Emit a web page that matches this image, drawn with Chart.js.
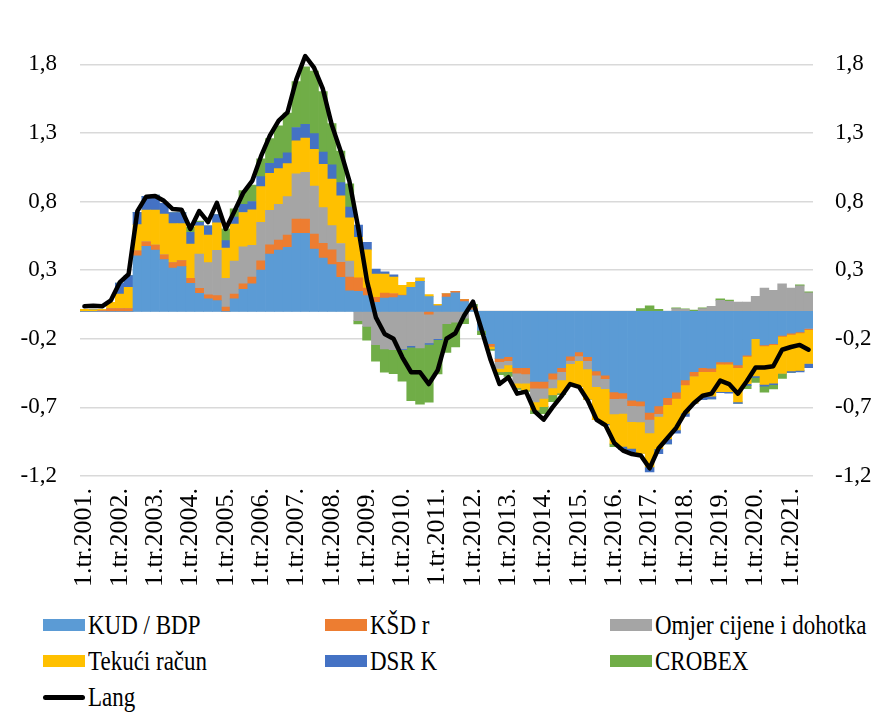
<!DOCTYPE html>
<html>
<head>
<meta charset="utf-8">
<script src="https://cdn.jsdelivr.net/npm/chart.js@4.4.1/dist/chart.umd.min.js"></script>
<style>
  html, body { margin: 0; padding: 0; background: #fff; }
  #wrap { position: relative; width: 874px; height: 720px; overflow: hidden; }
  #c { position: absolute; left: 0; top: 0; }
  .leg { position: absolute; font-family: "Liberation Serif", "Times New Roman", serif; font-size: 23px; color: #000; white-space: nowrap; line-height: 1; transform: scaleY(1.18); transform-origin: left center; }
  .sw { position: absolute; width: 42px; height: 12px; }
  .ln { position: absolute; width: 42px; height: 5px; background: #000; border-radius: 3px; }
</style>
</head>
<body>
<div id="wrap">
  <canvas id="c" width="874" height="600"></canvas>
  <div id="legend"></div>
</div>
<script>
// ---- data ----
const years = [];
for (let y = 2001; y <= 2021; y++) years.push(y);
const categories = [];
years.forEach(y => { for (let q = 1; q <= 4; q++) categories.push(q + '.tr.' + y + '.'); });
categories.length = 83; // 1.tr.2001. .. 3.tr.2021.

const kudBdp = [0,0,0,0,0,0,0.405,0.473,0.446,0.376,0.315,0.325,0.204,0.131,0.09,0.078,0,0.09,0.16,0.2,
  0.3,0.417,0.446,0.466,0.568,0.568,0.454,0.388,0.34,0.247,0.15,0.146,0.114,0.065,0.097,0.10,0.114,0.175,0.218,0.107,
  0.04,0.104,0.135,0.07,0.01,-0.14,-0.235,-0.343,-0.33,-0.41,-0.41,-0.51,-0.51,-0.45,-0.41,-0.327,-0.296,-0.33,-0.435,-0.465,
  -0.587,-0.594,-0.648,-0.655,-0.737,-0.69,-0.63,-0.59,-0.5,-0.44,-0.41,-0.415,-0.368,-0.368,-0.39,-0.32,-0.2,-0.245,-0.235,-0.175,
  -0.16,-0.15,-0.125];
const ksdR = [0,0,0.005,0.02,0.02,0.02,0.036,0.034,0.036,0.036,0.04,0.044,0.036,0.036,0.03,0.036,0.03,0.036,0.04,0.05,
  0.068,0.068,0.073,0.09,0.104,0.104,0.109,0.107,0.107,0.109,0.1,0.097,0.056,0.036,0.036,0.03,0.005,0,0,-0.02,
  0,0.024,0.01,0.015,0.01,0,-0.02,-0.024,-0.03,-0.04,-0.046,-0.05,-0.05,-0.044,-0.03,-0.03,-0.03,-0.03,-0.03,-0.025,
  -0.05,-0.04,-0.04,-0.034,-0.05,-0.056,-0.05,-0.044,-0.036,-0.03,-0.03,-0.024,-0.017,-0.017,-0.02,-0.008,0,-0.008,-0.008,-0.008,
  -0.008,-0.008,-0.008];
const omjer = [0,0,0,0,0,0,0,0,0,0,0,0,0,0.25,0.235,0.33,0.21,0.24,0.27,0.23,
  0.28,0.25,0.26,0.28,0.33,0.34,0.35,0.26,0.177,0.138,0.116,-0.068,-0.11,-0.243,-0.274,-0.28,-0.274,-0.25,-0.267,-0.21,
  -0.2,-0.09,-0.08,-0.05,0,0,0,-0.05,-0.03,-0.073,-0.068,-0.1,-0.075,-0.065,-0.06,-0.025,-0.034,-0.06,-0.085,-0.073,
  -0.11,-0.11,-0.117,-0.117,-0.1,-0.02,0,0.02,0.015,0,0.02,0.036,0.08,0.073,0.068,0.068,0.109,0.17,0.153,0.2,
  0.17,0.185,0.134];
const tekuci = [0.015,0.01,0.01,0.045,0.105,0.155,0.19,0.23,0.255,0.296,0.284,0.27,0.25,0.206,0.2,0.2,0.22,0.27,0.25,0.26,
  0.26,0.27,0.26,0.24,0.24,0.25,0.267,0.315,0.34,0.347,0.315,0.296,0.277,0.17,0.138,0.12,0.07,0.036,0.024,0.015,
  0.01,0,0,0,0.01,0,-0.02,-0.024,-0.05,-0.036,-0.05,-0.06,-0.06,-0.05,-0.097,-0.16,-0.19,-0.22,-0.24,-0.255,
  -0.22,-0.24,-0.194,-0.23,-0.247,-0.235,-0.25,-0.23,-0.206,-0.2,-0.18,-0.18,-0.2,-0.2,-0.25,-0.2,-0.27,-0.28,-0.28,-0.27,
  -0.267,-0.272,-0.247];
const dsrK = [0,0,0,0,0.08,0.085,0.09,0.1,0.11,0.078,0.08,0.08,0.085,0.025,0.068,0.06,0.055,0.05,0.06,0.06,
  0.073,0.073,0.073,0.078,0.097,0.1,0.114,0.09,0.104,0.097,0.078,0.09,0.056,0.036,0.017,0.015,-0.005,-0.012,0,-0.012,
  -0.007,0,0,0,0,0,0,0,0,0,0,0,0,0,0,0,0,0,0,-0.01,
  0,-0.025,-0.025,0,-0.036,-0.036,-0.036,-0.024,-0.024,0,-0.024,-0.02,-0.008,-0.012,-0.012,-0.012,-0.012,-0.012,-0.012,0,
  -0.01,-0.012,-0.03];
const crobex = [0,0,0,0,0,0,0,0,0,0,0,0,0.036,0.01,0,0,0.085,0.06,0.1,0.12,
  0.13,0.18,0.24,0.29,0.335,0.42,0.456,0.44,0.3,0.23,0.17,-0.024,-0.10,-0.12,-0.17,-0.175,-0.23,-0.39,-0.41,-0.42,
  -0.25,-0.21,-0.18,-0.04,0.02,-0.03,-0.01,-0.02,-0.035,-0.01,-0.01,-0.025,-0.05,-0.05,-0.01,0,0,0,0,0,
  -0.02,0,0,0.02,0.04,0.015,0,0.005,0.003,0.008,0.005,0,0.01,0.008,0,-0.024,-0.036,-0.044,-0.03,-0.036,
  0,0.008,0.008];
const lang = [0.036,0.04,0.036,0.08,0.21,0.27,0.73,0.835,0.84,0.805,0.745,0.74,0.6,0.73,0.65,0.79,0.6,0.73,0.865,0.95,
  1.13,1.28,1.39,1.45,1.69,1.86,1.775,1.62,1.36,1.17,0.95,0.61,0.22,-0.044,-0.165,-0.2,-0.335,-0.444,-0.444,-0.53,
  -0.43,-0.2,-0.16,-0.03,0.07,-0.14,-0.355,-0.53,-0.48,-0.6,-0.585,-0.73,-0.79,-0.7,-0.62,-0.53,-0.55,-0.65,-0.79,-0.83,
  -0.96,-1.015,-1.04,-1.05,-1.144,-1.0,-0.925,-0.85,-0.74,-0.67,-0.615,-0.6,-0.505,-0.53,-0.6,-0.51,-0.41,-0.41,-0.40,-0.28,
  -0.26,-0.245,-0.28];
const yTicks = [-1.2, -0.7, -0.2, 0.3, 0.8, 1.3, 1.8];

const seriesNames = ['KUD / BDP', 'KŠD r', 'Omjer cijene i dohotka', 'Tekući račun', 'DSR K', 'CROBEX', 'Lang'];
const seriesColors = ['#5B9BD5', '#ED7D31', '#A5A5A5', '#FFC000', '#4472C4', '#70AD47', '#000000'];
const barSeries = [kudBdp, ksdR, omjer, tekuci, dsrK, crobex];

// ---- chart ----
const SERIF = '"Liberation Serif", "Times New Roman", serif';
const YFONT = { family: SERIF, size: 23 };
const XFONT = { family: SERIF, size: 26 };
const fmt = v => (Math.round(v * 10) / 10).toFixed(1).replace('.', ',');

const datasets = barSeries.map((arr, i) => ({
  type: 'bar', label: seriesNames[i], data: arr, backgroundColor: seriesColors[i],
  borderWidth: 0, barPercentage: 1, categoryPercentage: 1, stack: 'bars', order: 1
}));
datasets.push({
  type: 'line', label: 'Lang', data: lang, borderColor: '#000', backgroundColor: '#000',
  borderWidth: 4.5, pointRadius: 0, tension: 0, stack: 'lang', order: 0,
  borderJoinStyle: 'round', borderCapStyle: 'round'
});

const zeroLine = {
  id: 'zeroLine',
  beforeDatasetsDraw(chart) {
    const { ctx, chartArea, scales } = chart;
    const y = scales.y.getPixelForValue(0);
    ctx.save();
    ctx.strokeStyle = '#d9d9d9';
    ctx.lineWidth = 1.5;
    ctx.beginPath();
    ctx.moveTo(chartArea.left, y);
    ctx.lineTo(chartArea.right, y);
    ctx.stroke();
    ctx.restore();
  }
};

new Chart(document.getElementById('c'), {
  type: 'bar',
  data: { labels: categories, datasets },
  plugins: [zeroLine],
  options: {
    responsive: false,
    animation: false,
    layout: { padding: { top: 36, left: 0, right: 0, bottom: 0 } },
    plugins: { legend: { display: false }, tooltip: { enabled: false } },
    scales: {
      x: {
        stacked: true,
        grid: { display: false },
        border: { display: false },
        ticks: {
          autoSkip: false, maxRotation: 90, minRotation: 90, padding: 4,
          color: '#000', font: XFONT,
          callback: function (v, i) { return i % 4 === 0 ? categories[i] : ''; }
        },
        afterFit(s) { s.height = 124; }
      },
      y: {
        stacked: true, min: -1.2, max: 2.0, position: 'left',
        grid: { color: '#d9d9d9', lineWidth: 1.5, drawTicks: false },
        border: { display: false },
        ticks: { color: '#000', font: YFONT, padding: 23, callback: v => fmt(v) },
        afterBuildTicks(axis) { axis.ticks = yTicks.map(v => ({ value: v })); },
        afterFit(s) { s.width = 80; }
      },
      y2: {
        min: -1.2, max: 2.0, position: 'right',
        grid: { display: false, drawTicks: false },
        border: { display: false },
        ticks: { color: '#000', font: YFONT, padding: 22, callback: v => fmt(v) },
        afterBuildTicks(axis) { axis.ticks = yTicks.map(v => ({ value: v })); },
        afterFit(s) { s.width = 61; }
      }
    }
  }
});

// ---- legend (HTML) ----
const legendPos = [
  [43, 625], [325, 625], [610, 625],
  [43, 661], [325, 661], [610, 661],
  [43, 697]
];
const legendEl = document.getElementById('legend');
seriesNames.forEach((name, i) => {
  const [x, y] = legendPos[i];
  const mark = document.createElement('div');
  if (i === 6) {
    mark.className = 'ln';
    mark.style.left = x + 'px';
    mark.style.top = (y - 2.5) + 'px';
  } else {
    mark.className = 'sw';
    mark.style.left = x + 'px';
    mark.style.top = (y - 6) + 'px';
    mark.style.background = seriesColors[i];
  }
  legendEl.appendChild(mark);
  const t = document.createElement('div');
  t.className = 'leg';
  t.textContent = name;
  t.style.left = (x + 45) + 'px';
  t.style.top = (y - 11.5) + 'px';
  legendEl.appendChild(t);
});
</script>
</body>
</html>
